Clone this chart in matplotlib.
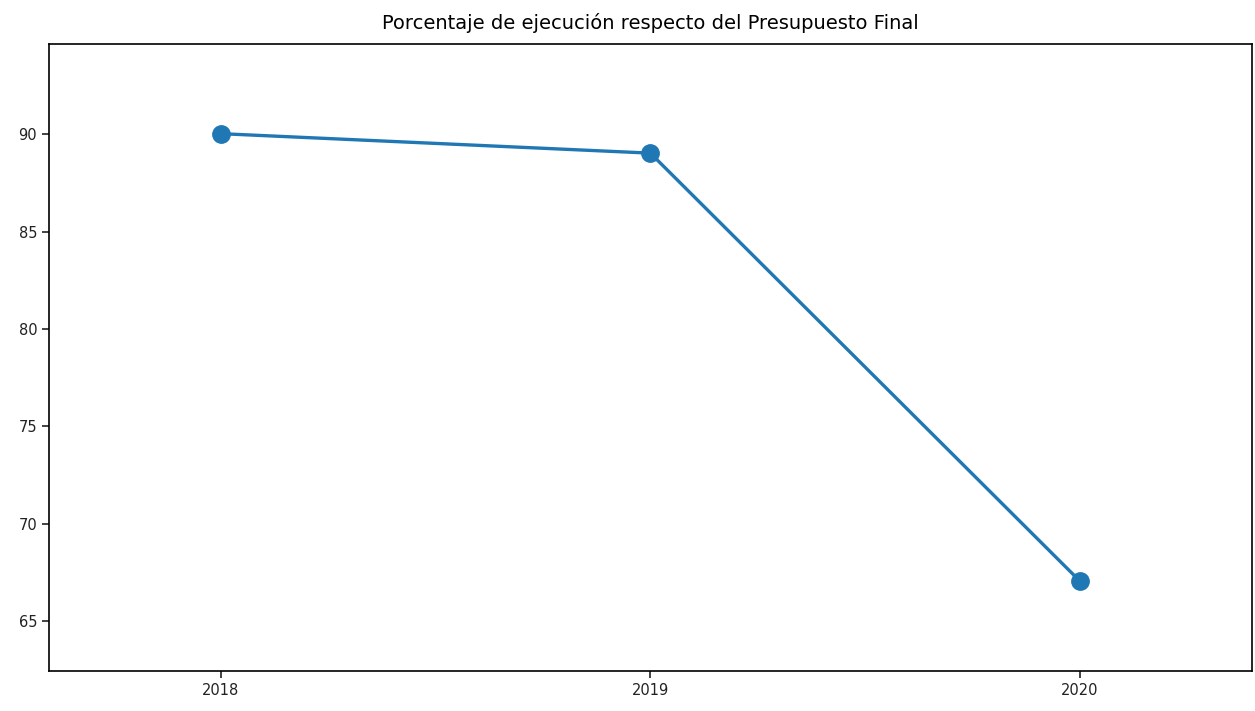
import matplotlib
matplotlib.use("Agg")
import matplotlib.pyplot as plt

years = ["2018", "2019", "2020"]
porcentaje = [90.03, 89.03, 67.05]

fig = plt.figure(figsize=(12.55, 7.11), dpi=100)
ax = fig.add_axes([0.039, 0.056, 0.9585, 0.882])

ax.plot(years, porcentaje, color="#1f77b4", linewidth=2.4,
        marker="o", markersize=12.5)

ax.set_xlim(-0.4, 2.4)
ax.set_ylim(62.43, 94.63)
ax.set_yticks([65, 70, 75, 80, 85, 90])
ax.tick_params(labelsize=10.5, colors="#222222", length=5, width=1.2)
for spine in ax.spines.values():
    spine.set_linewidth(1.2)

ax.set_title("Porcentaje de ejecución respecto del Presupuesto Final",
             fontsize=14, pad=11)

fig.savefig("out.png", dpi=100)
